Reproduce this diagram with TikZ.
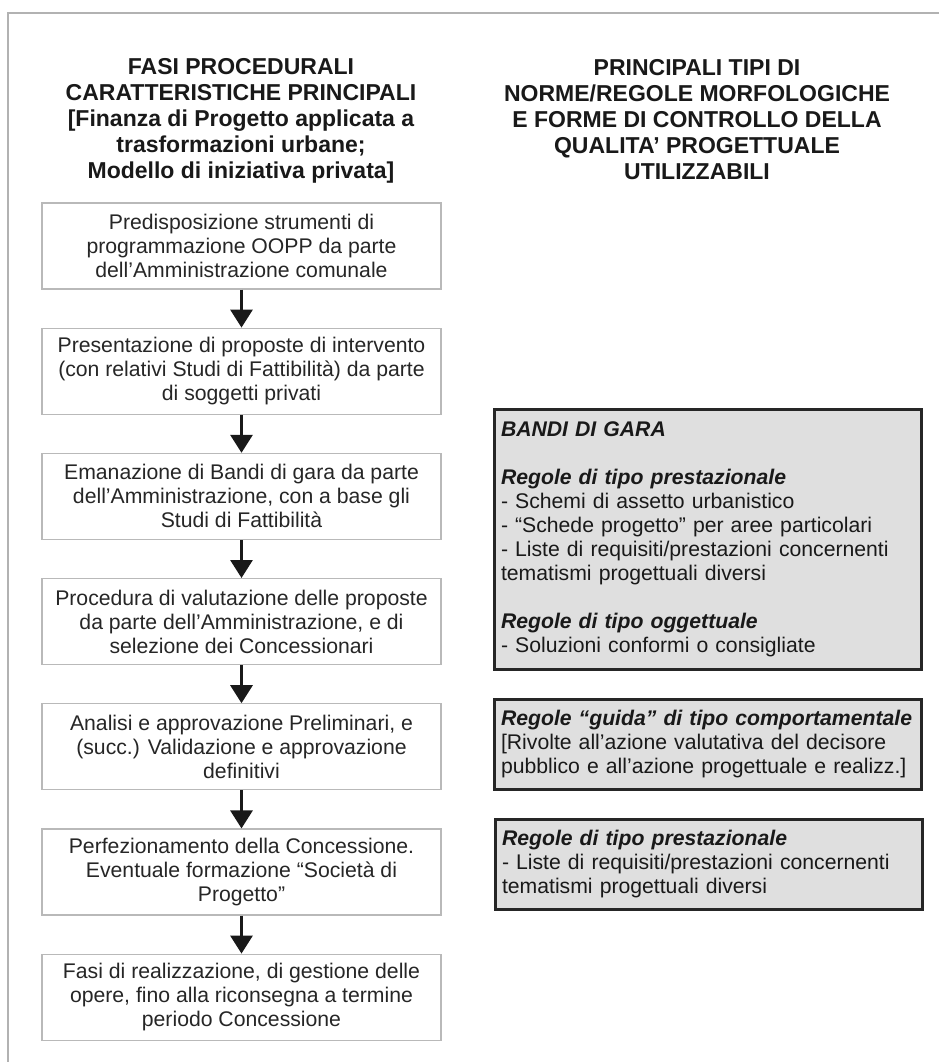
\documentclass[tikz,border=0pt]{standalone}
\usepackage{fontspec}
\setmainfont{Liberation Sans}
\usetikzlibrary{positioning,arrows.meta}

\tikzset{
  fase/.style={draw=gray!55, line width=0.6pt, fill=white, text=black!85,
    minimum width=199.5pt, minimum height=43pt, align=center, inner sep=1pt,
    font=\fontsize{10.6}{12}\selectfont},
  regola/.style={draw=black!85, line width=1.5pt, fill=gray!25, text=black!90,
    text width=207pt, inner xsep=3.25pt, align=left, anchor=north west,
    font=\fontsize{10.6}{12}\selectfont},
  titolo/.style={align=center, text=black!90, font=\fontsize{11.5}{13}\selectfont\bfseries},
  freccia/.style={-{Triangle[width=11pt,length=9pt]}, line width=1.5pt, black!90}
}

\begin{document}
\begin{tikzpicture}[x=0.5pt, y=-0.5pt]
  \useasboundingbox [fill=white] (0,0) rectangle (939,1062);
  % cornice
  \draw [gray!60, line width=0.8pt] (939,13) -- (8,13) -- (8,1062);

  % titoli
  \node [titolo] (tit1) at (241,120.5) {FASI PROCEDURALI\\CARATTERISTICHE PRINCIPALI\\{[}Finanza di Progetto applicata a\\trasformazioni urbane;\\Modello di iniziativa privata]};
  \node [titolo] (tit2) at (697,120) {PRINCIPALI TIPI DI\\NORME/REGOLE MORFOLOGICHE\\E FORME DI CONTROLLO DELLA\\QUALITA’ PROGETTUALE\\UTILIZZABILI};

  % fasi procedurali
  \node [fase] (f1) at (241.5,246) {Predisposizione strumenti di\\programmazione OOPP da parte\\dell’Amministrazione comunale};
  \node [fase, below=19pt of f1] (f2) {Presentazione di proposte di intervento\\(con relativi Studi di Fattibilità) da parte\\di soggetti privati};
  \node [fase, below=19pt of f2] (f3) {Emanazione di Bandi di gara da parte\\dell’Amministrazione, con a base gli\\Studi di Fattibilità};
  \node [fase, below=19pt of f3] (f4) {Procedura di valutazione delle proposte\\da parte dell’Amministrazione, e di\\selezione dei Concessionari};
  \node [fase, below=19pt of f4] (f5) {Analisi e approvazione Preliminari, e\\(succ.) Validazione e approvazione\\definitivi};
  \node [fase, below=19pt of f5] (f6) {Perfezionamento della Concessione.\\Eventuale formazione “Società di\\Progetto”};
  \node [fase, below=19pt of f6] (f7) {Fasi di realizzazione, di gestione delle\\opere, fino alla riconsegna a termine\\periodo Concessione};

  \foreach \a/\b in {f1/f2, f2/f3, f3/f4, f4/f5, f5/f6, f6/f7}
    \draw [freccia] (\a.south) -- (\b.north);

  % regole
  \node [regola, minimum height=130pt] (bandi) at (493,408) {\textbf{\textit{BANDI DI GARA}}\\[12pt]
    \textbf{\textit{Regole di tipo prestazionale}}\\
    - Schemi di assetto urbanistico\\
    - “Schede progetto” per aree particolari\\
    - Liste di requisiti/prestazioni concernenti\\
    tematismi progettuali diversi\\[12pt]
    \textbf{\textit{Regole di tipo oggettuale}}\\
    - Soluzioni conformi o consigliate};
  \node [regola, minimum height=45pt] (guida) at (493,698) {\textbf{\textit{Regole “guida” di tipo comportamentale}}\\
    {[}Rivolte all’azione valutativa del decisore\\
    pubblico e all’azione progettuale e realizz.]};
  \node [regola, minimum height=45pt] (prest) at (494,818) {\textbf{\textit{Regole di tipo prestazionale}}\\
    - Liste di requisiti/prestazioni concernenti\\
    tematismi progettuali diversi};
\end{tikzpicture}
\end{document}
